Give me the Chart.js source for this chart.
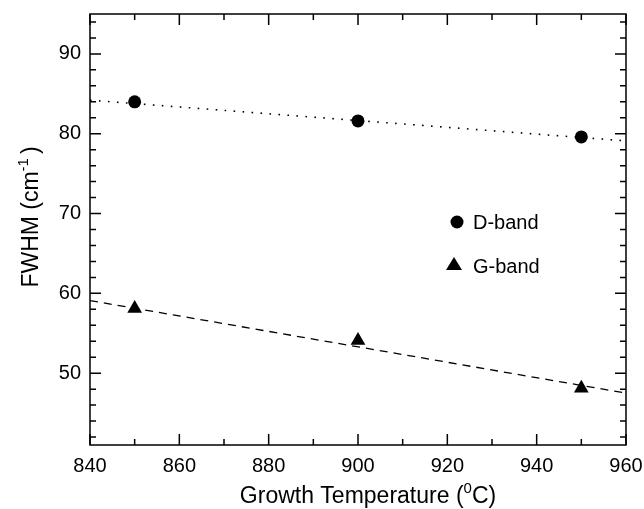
<!DOCTYPE html>
<html>
<head>
<meta charset="utf-8">
<script src="https://cdn.jsdelivr.net/npm/chart.js@4.4.1/dist/chart.umd.min.js"></script>
<style>
  html, body { margin: 0; padding: 0; background: #fff; }
  #wrap { width: 644px; height: 509px; }
</style>
</head>
<body>
<div id="wrap"><canvas id="chart"></canvas></div>
<script>
// donnees
var temps = [850, 900, 950];
var dBand = [84.0, 81.6, 79.6];
var gBand = [58.1, 54.1, 48.1];
// droites d'ajustement (extremites)
var fitX = [840, 960];
var dFit = [84.2, 79.1];
var gFit = [59.1, 47.5];
var xTicks = [840, 860, 880, 900, 920, 940, 960];
var yTicks = [50, 60, 70, 80, 90];

var FONT = "'Liberation Sans', Arial, Helvetica, sans-serif";

function pts(xs, ys) {
  return xs.map(function(x, i) { return {x: x, y: ys[i]}; });
}

// cadre, graduations interieures, titres des axes et legende
var framePlugin = {
  id: 'frame',
  afterDraw: function(chart) {
    var c = chart.ctx, a = chart.chartArea;
    var xs = chart.scales.x, ys = chart.scales.y;
    c.save();
    c.strokeStyle = '#000';
    c.lineWidth = 1.5;
    c.strokeRect(a.left, a.top, a.right - a.left, a.bottom - a.top);
    c.beginPath();
    for (var v = 840; v <= 960; v += 10) {
      var px = xs.getPixelForValue(v);
      var len = (v % 20 === 0) ? 11 : 6;
      c.moveTo(px, a.bottom); c.lineTo(px, a.bottom - len);
      c.moveTo(px, a.top); c.lineTo(px, a.top + len);
    }
    for (var w = 42; w <= 94; w += 2) {
      var py = ys.getPixelForValue(w);
      var l2 = (w % 10 === 0) ? 11 : 6;
      c.moveTo(a.left, py); c.lineTo(a.left + l2, py);
      c.moveTo(a.right, py); c.lineTo(a.right - l2, py);
    }
    c.stroke();

    // titre axe x avec exposant
    c.fillStyle = '#000';
    c.textBaseline = 'alphabetic';
    var big = '23px ' + FONT, small = '15px ' + FONT;
    var p1 = 'Growth Temperature (', p3 = 'C)';
    c.font = small; var w2 = c.measureText('0').width;
    c.font = big;
    var w1 = c.measureText(p1).width, w3 = c.measureText(p3).width;
    var x0 = 368 - (w1 + w2 + w3) / 2, yb = 503;
    c.textAlign = 'left';
    c.fillText(p1, x0, yb);
    c.font = small; c.fillText('0', x0 + w1, yb - 10);
    c.font = big; c.fillText(p3, x0 + w1 + w2, yb);

    // titre axe y avec exposant
    c.save();
    c.translate(38, 217);
    c.rotate(-Math.PI / 2);
    var q1 = 'FWHM (cm', q2 = '-1', q3 = ')';
    c.font = small; var v2 = c.measureText(q2).width;
    c.font = big;
    var v1 = c.measureText(q1).width, v3 = c.measureText(q3).width;
    var s0 = -(v1 + v2 + v3 + 4) / 2;
    c.fillText(q1, s0, 0);
    c.font = small; c.fillText(q2, s0 + v1, -10);
    c.font = big; c.fillText(q3, s0 + v1 + v2 + 4, 0);
    c.restore();

    // legende
    c.font = '20px ' + FONT;
    c.textBaseline = 'middle';
    c.beginPath(); c.arc(457, 222, 6.5, 0, Math.PI * 2); c.fill();
    c.fillText('D-band', 473, 223);
    c.beginPath();
    c.moveTo(454, 257); c.lineTo(462, 270); c.lineTo(446, 270); c.closePath(); c.fill();
    c.fillText('G-band', 473, 267);
    c.restore();
  }
};

new Chart(document.getElementById('chart'), {
  type: 'scatter',
  data: {
    datasets: [
      {
        label: 'D-band fit', data: pts(fitX, dFit), showLine: true,
        borderColor: '#000', borderWidth: 1.6, borderDash: [1.6, 7.4],
        pointRadius: 0, fill: false
      },
      {
        label: 'G-band fit', data: pts(fitX, gFit), showLine: true,
        borderColor: '#000', borderWidth: 1.3, borderDash: [8, 6],
        pointRadius: 0, fill: false
      },
      {
        label: 'D-band', data: pts(temps, dBand),
        pointStyle: 'circle', pointRadius: 6.5,
        backgroundColor: '#000', borderColor: '#000', borderWidth: 0
      },
      {
        label: 'G-band', data: pts(temps, gBand),
        pointStyle: 'triangle', pointRadius: 8.5,
        backgroundColor: '#000', borderColor: '#000', borderWidth: 0
      }
    ]
  },
  options: {
    responsive: true,
    maintainAspectRatio: false,
    animation: false,
    layout: { padding: { left: 0, top: 14, right: 18, bottom: 0 } },
    plugins: { legend: { display: false }, tooltip: { enabled: false } },
    scales: {
      x: {
        type: 'linear', min: 840, max: 960,
        afterBuildTicks: function(s) { s.ticks = xTicks.map(function(v) { return {value: v}; }); },
        afterFit: function(s) { s.height = 64; s.paddingLeft = 0; s.paddingRight = 0; },
        grid: { display: false, drawTicks: false },
        border: { display: false },
        ticks: { color: '#000', padding: 9, maxRotation: 0, font: { family: FONT, size: 20 } }
      },
      y: {
        type: 'linear', min: 41, max: 95,
        afterBuildTicks: function(s) { s.ticks = yTicks.map(function(v) { return {value: v}; }); },
        afterFit: function(s) { s.width = 90; s.paddingTop = 0; s.paddingBottom = 0; },
        grid: { display: false, drawTicks: false },
        border: { display: false },
        ticks: { color: '#000', padding: 9, font: { family: FONT, size: 20 } }
      }
    }
  },
  plugins: [framePlugin]
});
</script>
</body>
</html>
